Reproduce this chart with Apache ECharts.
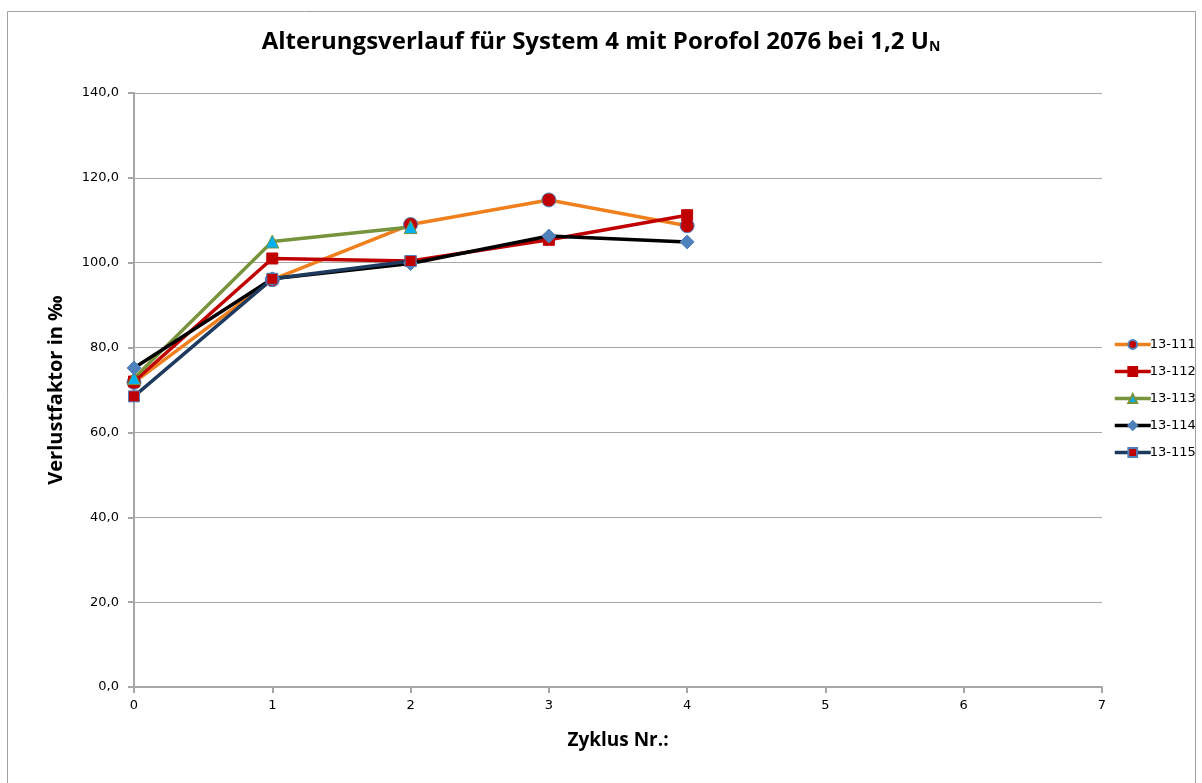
<!DOCTYPE html>
<html>
<head>
<meta charset="utf-8">
<script src="https://cdn.jsdelivr.net/npm/echarts@6/dist/echarts.min.js"></script>
<style>
html,body{margin:0;padding:0;background:#fff;}
#chart{width:1202px;height:783px;}
</style>
</head>
<body>
<div id="chart"></div>
<script>
// Zyklus (x) und Verlustfaktor (y) je Probe
var zyklus = [0, 1, 2, 3, 4];
var s111 = [71.8, 96.0, 109.0, 114.8, 108.7];
var s112 = [72.0, 101.0, 100.4, 105.4, 111.2];
var s113 = [72.8, 105.0, 108.4];
var s114 = [75.2, 96.2, 99.8, 106.3, 104.9];
var s115 = [68.5, 96.2, 100.4];
var namen = ['13-111', '13-112', '13-113', '13-114', '13-115'];

function paare(werte) {
	var out = [];
	for (var i = 0; i < werte.length; i++) {
		out.push([zyklus[i], werte[i]]);
	}
	return out;
}

var myChart = echarts.init(document.getElementById('chart'));

function serie(name, werte, linie, symbol, fill, rand, size) {
	return {
		name: name,
		type: 'line',
		data: paare(werte),
		symbol: symbol,
		symbolSize: size,
		showAllSymbol: true,
		lineStyle: {color: linie, width: 3.5},
		itemStyle: {color: fill, borderColor: rand, borderWidth: 1},
		color: linie,
		z: 2
	};
}

var option = {
	animation: false,
	textStyle: {fontFamily: 'DejaVu Sans'},
	title: {
		text: 'Alterungsverlauf für System 4 mit Porofol 2076 bei 1,2 U{sub|N}',
		left: 'center',
		top: 25,
		textStyle: {
			fontFamily: 'Open Sans',
			fontSize: 24,
			fontWeight: 'bold',
			color: '#000',
			rich: {
				sub: {fontFamily: 'Open Sans', fontSize: 14, fontWeight: 'bold', color: '#000', verticalAlign: 'bottom', padding: [8, 0, 0, 0]}
			}
		}
	},
	legend: {
		orient: 'vertical',
		left: 1108,
		top: 333,
		itemGap: 14,
		itemWidth: 36,
		itemHeight: 11,
		lineStyle: {width: 3.5},
		textStyle: {fontFamily: 'DejaVu Sans', fontSize: 13, color: '#000', padding: [0, 0, 0, -6]},
		data: namen
	},
	grid: {left: 134, right: 100, top: 93, bottom: 96},
	xAxis: {
		type: 'value',
		min: 0,
		max: 7,
		interval: 1,
		name: 'Zyklus Nr.:',
		nameLocation: 'middle',
		nameGap: 44,
		nameTextStyle: {fontFamily: 'Open Sans', fontSize: 19, fontWeight: 'bold', color: '#000'},
		axisLine: {lineStyle: {color: '#A6A6A6', width: 2}},
		axisTick: {show: true, length: 6, lineStyle: {color: '#A6A6A6', width: 2}},
		axisLabel: {color: '#000', fontSize: 13, margin: 12},
		splitLine: {show: false}
	},
	yAxis: {
		type: 'value',
		min: 0,
		max: 140,
		interval: 20,
		name: 'Verlustfaktor in ‰',
		nameLocation: 'middle',
		nameGap: 68,
		nameTextStyle: {fontFamily: 'Open Sans', fontSize: 20, fontWeight: 'bold', color: '#000'},
		axisLine: {show: true, lineStyle: {color: '#A6A6A6', width: 2}},
		axisTick: {show: true, length: 6, lineStyle: {color: '#A6A6A6', width: 2}},
		axisLabel: {
			color: '#000', fontSize: 13, margin: 15,
			formatter: function (v) { return v.toFixed(1).replace('.', ','); }
		},
		splitLine: {lineStyle: {color: '#A6A6A6', width: 1}}
	},
	graphic: [{
		type: 'rect',
		shape: {x: 7.5, y: 11.5, width: 1188, height: 790},
		style: {fill: 'none', stroke: '#A0A0A0', lineWidth: 1},
		silent: true
	}],
	series: [
		serie('13-111', s111, '#F0801E', 'circle', '#C00000', '#4F81BD', 14),
		serie('13-112', s112, '#C00000', 'rect', '#C00000', '#C00000', 11),
		serie('13-113', s113, '#77933C', 'triangle', '#00B0F0', '#77933C', 13),
		serie('13-114', s114, '#000000', 'diamond', '#4F81BD', '#4F81BD', 14),
		serie('13-115', s115, '#1F3A5F', 'rect', '#C00000', '#4F81BD', 11)
	]
};

myChart.setOption(option);
</script>
</body>
</html>
